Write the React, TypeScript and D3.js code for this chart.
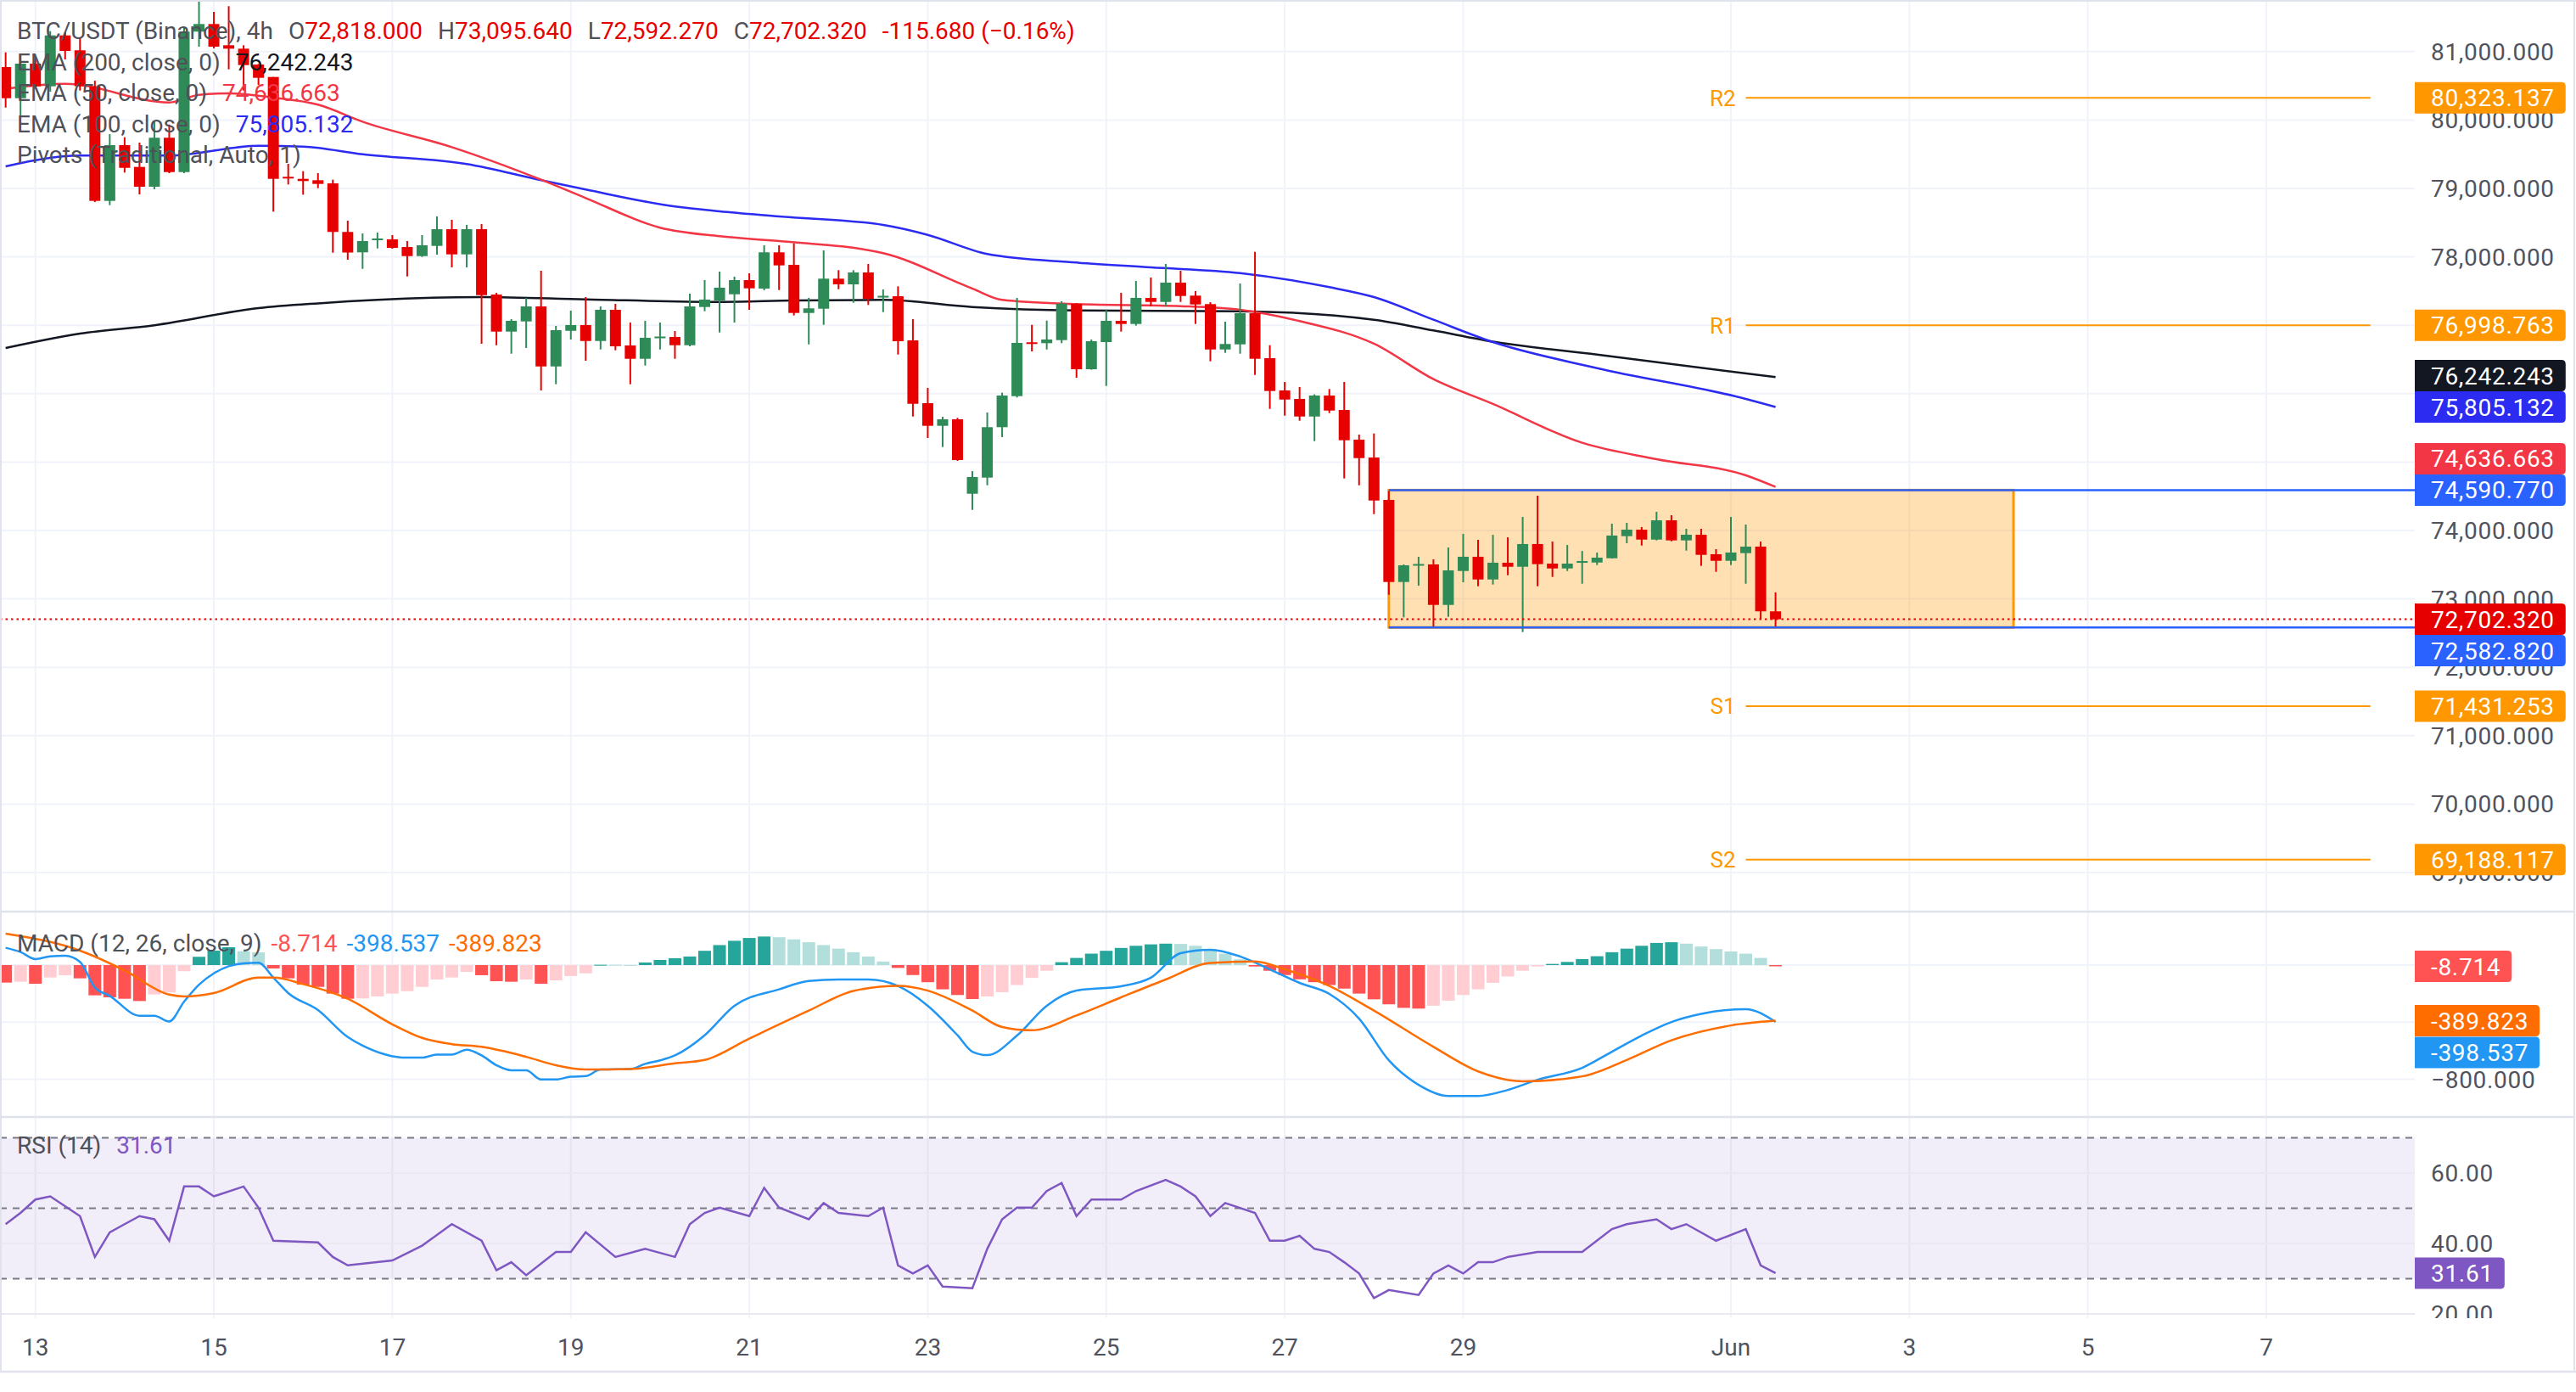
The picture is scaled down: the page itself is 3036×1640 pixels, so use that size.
import React from "react";
import * as d3 from "d3";

const W = 3036;
const H = 1640;

// ---------- DATA ----------
const barStart = new Date(2026, 4, 12, 16, 0); // first visible 4h bar
const opens = [80774,80319,80824,80493,81237,81019,80493,78818,79633,79314,79025,79741,79239,81292,81403,81093,81043,80811,80629,79170,79140,79120,79074,78364,78066,78252,78256,78144,78011,78160,78404,78036,78404,77449,76907,77056,77275,76398,76919,77003,76770,77226,76705,76510,76822,76829,76708,77267,77362,77453,77660,77536,78066,77883,77180,77242,77681,77598,77772,77418,77424,76779,75861,75530,75625,74537,74773,75510,75964,76751,76738,76783,77313,76357,76754,77065,77019,77400,77341,77623,77433,77309,76646,76721,77176,76519,76047,75923,75666,75973,75762,75328,75067,74447,73247,73498,73504,72912,73408,73616,73284,73529,73470,73802,73516,73445,73544,73532,73594,73917,74012,73867,74149,73855,73938,73653,73557,73669,73764,72818];
const highs = [80989,80948,80911,81299,81283,81196,80576,79794,79748,79670,79980,79934,81345,81733,81581,81664,81093,80820,80630,79360,79252,79223,79128,78529,78342,78355,78318,78231,78318,78591,78541,78467,78479,77474,77089,77400,77797,76990,77213,77412,77275,77313,77040,77065,77040,76916,77462,77660,77784,77710,77759,78169,78169,78197,77400,78094,77805,77805,77896,77524,77569,77089,76084,75662,75646,74868,75725,76014,77400,77006,77068,77350,77325,76792,77222,77474,77648,77697,77896,77797,77499,77337,77052,77610,78073,76708,76171,76097,75990,76068,76171,75402,75418,74579,73504,73615,73578,73752,73950,73863,73937,73900,74198,74509,73838,73788,73701,73677,74100,74112,74050,74273,74223,74025,74025,73727,74198,74087,73838,73095.64];
const lows = [80182,80058,80452,80414,80886,80431,78801,78756,79232,78913,78988,79223,79223,81072,81047,80741,80431,80514,78661,79058,78909,79004,78061,77958,77825,78123,78119,77713,77999,78032,77846,77846,76730,76708,76584,76667,76047,76138,76792,76481,76646,76634,76138,76411,76646,76510,76692,77205,76895,77040,77226,77511,77515,77143,76721,77006,77527,77329,77297,77192,76572,75666,75352,75220,75017,74301,74661,75365,75944,76618,76646,76738,76233,76350,76113,76907,76994,77279,77279,77341,77019,76473,76597,76584,76274,75778,75679,75604,75306,75716,74761,74661,74239,73061,72731,73193,72589,72738,73243,73185,73210,73346,72515,73185,73321,73408,73222,73495,73590,73814,73780,73855,73842,73706,73483,73396,73495,73222,72701,72592.27];
const closes = [80319,80824,80493,81237,81010,80493,78818,79633,79301,79025,79741,79239,81292,81403,81072,81043,80803,80617,79140,79149,79108,79066,78364,78063,78231,78268,78131,78011,78169,78404,78036,78404,77440,76907,77065,77275,76398,76928,77003,76770,77226,76692,76510,76816,76835,76708,77275,77375,77549,77660,77540,78066,77875,77180,77247,77681,77598,77772,77387,77430,76767,75852,75530,75625,75030,74782,75510,75973,76742,76738,76792,77316,76357,76767,77065,77019,77400,77341,77623,77428,77304,76646,76726,77176,76510,76039,75914,75666,75973,75753,75319,75058,74438,73247,73491,73510,72912,73417,73616,73284,73529,73470,73802,73508,73445,73516,73553,73603,73926,74012,73867,74149,73855,73938,73644,73557,73678,73764,72818,72702.32];

// EMA readings: [bar index, value]
const ema200: [number, number][] = [[0,76667],[5,76878],[10,77000],[17,77250],[21,77320],[32,77412],[39,77378],[48,77341],[53,77362],[59,77371],[65,77267],[72,77217],[83,77205],[92,77081],[96,76924],[100,76760],[107,76570],[119,76242.243]];
const ema100: [number, number][] = [[0,79323],[5,79480],[11,79480],[17,79624],[20,79612],[24,79500],[31,79356],[36,79120],[39,78984],[45,78736],[48,78665],[52,78591],[59,78466],[62,78321],[66,78041],[72,77917],[77,77846],[83,77763],[89,77557],[92,77412],[96,77081],[100,76754],[107,76373],[117,75923],[119,75805.132]];
const ema50: [number, number][] = [[0,80458],[4,80530],[11,80257],[13,80368],[15,80390],[18,80328],[21,80225],[24,79976],[30,79604],[36,79128],[39,78860],[44,78426],[48,78301],[52,78231],[59,78053],[65,77536],[67,77371],[72,77309],[79,77279],[83,77226],[87,77061],[92,76730],[96,76212],[100,75849],[106,75282],[111,75042],[117,74806],[119,74636.663]];

const macdPts: [number, number][] = [[0,121],[1,91],[2,42],[3,61],[4,65],[5,22],[6,-157],[7,-216],[9,-355],[10,-355],[11,-395],[12,-256],[13,-137],[14,-58],[15,-8],[16,12],[17,16],[18,-88],[19,-196],[21,-315],[23,-504],[24,-564],[27,-649],[28,-649],[29,-627],[30,-627],[31,-593],[32,-633],[33,-702],[34,-738],[35,-738],[36,-802],[37,-802],[38,-782],[39,-778],[40,-732],[42,-728],[43,-692],[44,-668],[45,-633],[47,-492],[49,-285],[52,-170],[54,-112],[56,-101],[58,-101],[60,-146],[62,-285],[64,-492],[65,-607],[66,-631],[68,-494],[70,-285],[72,-179],[75,-149],[77,-89],[79,83],[81,107],[83,60],[85,-30],[87,-125],[89,-202],[91,-375],[93,-667],[95,-839],[97,-917],[99,-917],[101,-875],[103,-804],[106,-720],[108,-607],[110,-494],[112,-399],[114,-342],[117,-309],[119,-398.537]];
const signalPts: [number, number][] = [[0,220],[5,101],[8,-38],[11,-207],[12,-220],[14,-196],[17,-88],[18,-88],[20,-133],[23,-236],[26,-415],[28,-510],[30,-554],[32,-573],[35,-643],[37,-702],[39,-732],[42,-728],[45,-689],[47,-665],[50,-515],[54,-319],[57,-181],[60,-146],[62,-179],[65,-319],[67,-434],[69,-457],[72,-353],[75,-226],[78,-101],[81,15],[84,26],[86,-30],[89,-146],[92,-319],[96,-573],[99,-745],[102,-815],[106,-780],[109,-665],[112,-527],[116,-423],[119,-389.823]];
const histVals = [-123,-117,-131,-87,-71,-93,-212,-226,-236,-252,-206,-192,-43,58,101,125,97,89,-24,-93,-137,-153,-200,-236,-234,-220,-200,-183,-153,-101,-87,-48,-71,-113,-117,-101,-131,-107,-77,-58,2,2,1,18,36,48,60,100,140,170,190,200,195,180,160,140,115,90,60,25,-20,-70,-120,-170,-210,-238,-220,-190,-140,-90,-40,20,50,80,100,120,135,145,150,148,135,110,80,40,-10,-40,-70,-100,-120,-140,-165,-200,-240,-275,-300,-305,-285,-250,-210,-170,-125,-80,-40,-10,8,22,42,62,90,115,135,155,160,150,130,112,95,80,50,-8.714];

const rsiPts: [number, number][] = [[0,45.5],[1,48.7],[2,52.5],[3,53.4],[5,47.8],[6,36.2],[7,43.2],[8,45.5],[9,47.8],[10,46.9],[11,40.8],[12,56.2],[13,56.2],[14,53.4],[16,56.2],[17,50.2],[18,40.8],[21,40.3],[22,36.2],[23,33.8],[26,35.2],[28,39.4],[30,45.5],[32,40.8],[33,32.4],[34,34.7],[35,31],[37,37.6],[38,37.6],[39,43.2],[41,36.2],[43,38.5],[45,36.2],[46,45.5],[47,48.7],[48,50.2],[50,47.8],[51,55.8],[52,50.2],[54,46.9],[55,51.5],[56,48.7],[58,47.8],[59,50.2],[60,33.8],[61,31.5],[62,33.8],[63,27.8],[65,27.3],[66,38.5],[67,46.9],[68,50.2],[69,50.2],[70,54.9],[71,57.2],[72,47.8],[73,52.5],[75,52.5],[76,54.9],[78,58.1],[79,56.2],[80,53.4],[81,47.8],[82,51.5],[84,48.7],[85,40.8],[86,40.8],[87,42.2],[88,38.5],[89,37.6],[90,34.7],[91,31.5],[92,24.5],[93,26.8],[95,25.4],[96,31.5],[97,33.8],[98,31.5],[99,34.7],[100,34.7],[101,36.2],[103,37.6],[106,37.6],[108,44.1],[109,45.5],[111,46.9],[112,44.1],[113,45.5],[115,40.8],[117,44.1],[118,33.8],[119,31.61]];

const pivotNames = ["R2", "R1", "S1", "S2"];
const pivotValues = [80323.137, 76998.763, 71431.253, 69188.117];
const boxTop = 74590.77;
const boxBottom = 72582.82;
const boxStartBar = 93;
const boxEnd = new Date(2026, 5, 4, 4);
const pivotStart = new Date(2026, 5, 1, 4);
const pivotEnd = new Date(2026, 5, 8, 4);
const lastPrice = 72702.32;

const priceTicks = [69000, 70000, 71000, 72000, 73000, 74000, 75000, 76000, 77000, 78000, 79000, 80000, 81000];
const macdTicks = [0, -400, -800];
const rsiTicks = [60, 40, 20];
const rsiBands = [70, 50, 30];
const timeTicks = ["2026-05-13","2026-05-15","2026-05-17","2026-05-19","2026-05-21","2026-05-23","2026-05-25","2026-05-27","2026-05-29","2026-06-01","2026-06-03","2026-06-05","2026-06-07"];

const legendMain = { title: "BTC/USDT (Binance), 4h", o: "72,818.000", h: "73,095.640", l: "72,592.270", c: "72,702.320", ch: "-115.680 (\u22120.16%)" };

// ---------- LAYOUT ----------
const PLOT_R = 2846;
const PRICE_BOT = 1073;
const MACD_TOP = 1075, MACD_BOT = 1315;
const RSI_TOP = 1317, RSI_BOT = 1553;
const FONT = "Roboto, 'Noto Sans', sans-serif";
const GRID = "#f0f3fa";
const AX_TXT = "#50535e";
const UP = "#2e8b57";
const DN = "#e60000";

const xTime = d3.scaleTime().domain([new Date(2026, 4, 13), new Date(2026, 5, 1)]).range([41.7, 2040]);
const barDate = (i: number) => new Date(barStart.getTime() + i * 4 * 3600 * 1000);
const bx = (i: number) => xTime(barDate(i));
const yP = d3.scaleLinear().domain([69000, 81000]).range([1028, 60.8]);
const yM = d3.scaleLinear().domain([-800, 0]).range([1271.5, 1137]);
const yR = d3.scaleLinear().domain([30, 70]).range([1506.6, 1340.6]);

const fmtP = d3.format(",.3f");

let _ctx: CanvasRenderingContext2D | null = null;
function tw(s: string, size = 28, ls = 0.7) {
  if (!_ctx) _ctx = document.createElement("canvas").getContext("2d");
  if (!_ctx) return s.length * size * 0.55;
  _ctx.font = `${size}px Roboto`;
  return _ctx.measureText(s).width + ls * s.length;
}

type Lab = { y0: number; text: string; color: string; pr: number };
function layoutLabels(labs: Lab[], h: number) {
  const placed: (Lab & { y: number })[] = [];
  [...labs].sort((a, b) => a.pr - b.pr).forEach((l) => {
    let y = l.y0;
    for (let k = 0; k < 12; k++) {
      const hit = placed.find((p) => Math.abs(p.y - y) < h - 0.5);
      if (!hit) break;
      y = l.y0 < hit.y ? hit.y - h : hit.y + h;
    }
    placed.push({ ...l, y });
  });
  return placed;
}

function AxisLabel({ y, text, color }: { y: number; text: string; color: string }) {
  const h = 37;
  const w = 19 + tw(text) + 13;
  const x0 = PLOT_R, x1 = PLOT_R + w, r = 5;
  const top = y - h / 2, bot = y + h / 2;
  const d = `M${x0},${top} H${x1 - r} Q${x1},${top} ${x1},${top + r} V${bot - r} Q${x1},${bot} ${x1 - r},${bot} H${x0} Z`;
  return (
    <g>
      <path d={d} fill={color} />
      <text x={PLOT_R + 19} y={y} dy="0.36em" fill="#ffffff" fontSize={28} letterSpacing={0.7} fontFamily={FONT}>{text}</text>
    </g>
  );
}

export default function App() {
  const n = closes.length;
  const bodyW = 13;
  const lineP = d3.line<[number, number]>().x((d) => bx(d[0])).y((d) => yP(d[1])).curve(d3.curveMonotoneX);
  const lineM = d3.line<[number, number]>().x((d) => bx(d[0])).y((d) => yM(d[1])).curve(d3.curveMonotoneX);
  const lineR = d3.line<[number, number]>().x((d) => bx(d[0])).y((d) => yR(d[1]));

  const priceLabs = layoutLabels([
    { y0: yP(lastPrice), text: fmtP(lastPrice), color: DN, pr: 0 },
    { y0: yP(boxTop), text: fmtP(boxTop), color: "#2962ff", pr: 1 },
    { y0: yP(boxBottom), text: fmtP(boxBottom), color: "#2962ff", pr: 1 },
    { y0: yP(75805.132), text: fmtP(75805.132), color: "#2b2bf2", pr: 2 },
    ...pivotValues.map((v) => ({ y0: yP(v), text: fmtP(v), color: "#ff9800", pr: 3 })),
    { y0: yP(74636.663), text: fmtP(74636.663), color: "#f23645", pr: 4 },
    { y0: yP(76242.243), text: fmtP(76242.243), color: "#131722", pr: 5 },
  ], 37);
  const macdLabs = layoutLabels([
    { y0: yM(-8.714), text: "-8.714", color: "#ff5252", pr: 0 },
    { y0: yM(-389.823), text: "-389.823", color: "#ff6d00", pr: 1 },
    { y0: yM(-398.537), text: "-398.537", color: "#2196f3", pr: 2 },
  ], 37.5);

  const tickDates = timeTicks.map((s) => { const [a, b, c] = s.split("-").map(Number); return new Date(a, b - 1, c); });
  const fmtTick = (d: Date) => (d.getDate() === 1 ? d3.timeFormat("%b")(d) : String(d.getDate()));

  const histColor = (i: number) => {
    const v = histVals[i];
    const p = i > 0 ? histVals[i - 1] : (v < 0 ? 0 : -1e9);
    if (v >= 0) return v > p ? "#26a69a" : "#b2dfdb";
    return v < p ? "#ff5252" : "#ffcdd2";
  };

  const gap = 18;
  return (
    <div style={{ position: "fixed", left: 0, top: 0, width: W, height: H, background: "#fff" }}>
      <svg width={W} height={H} viewBox={`0 0 ${W} ${H}`} style={{ display: "block" }} fontFamily={FONT}>
        <defs>
          <clipPath id="cpP"><rect x={0} y={0} width={PLOT_R} height={PRICE_BOT} /></clipPath>
          <clipPath id="cpM"><rect x={0} y={MACD_TOP} width={PLOT_R} height={MACD_BOT - MACD_TOP} /></clipPath>
          <clipPath id="cpR"><rect x={0} y={RSI_TOP} width={PLOT_R} height={RSI_BOT - RSI_TOP} /></clipPath>
          <clipPath id="cpRA"><rect x={PLOT_R} y={RSI_TOP} width={200} height={RSI_BOT - RSI_TOP} /></clipPath>
        </defs>
        <rect x={0} y={0} width={W} height={H} fill="#ffffff" />

        {/* vertical grid */}
        {tickDates.map((d, k) => (
          <line key={"vg" + k} x1={xTime(d)} x2={xTime(d)} y1={0} y2={RSI_BOT} stroke={GRID} strokeWidth={2} />
        ))}
        {/* price grid */}
        {priceTicks.map((t) => (
          <line key={"pg" + t} x1={0} x2={PLOT_R} y1={yP(t)} y2={yP(t)} stroke={GRID} strokeWidth={2} />
        ))}
        {macdTicks.map((t) => (
          <line key={"mg" + t} x1={0} x2={PLOT_R} y1={yM(t)} y2={yM(t)} stroke={GRID} strokeWidth={2} />
        ))}
        {/* RSI band */}
        <rect x={0} y={yR(70)} width={PLOT_R} height={yR(30) - yR(70)} fill="rgba(126,87,194,0.1)" />
        {rsiTicks.map((t) => (
          <line key={"rg" + t} x1={0} x2={PLOT_R} y1={yR(t)} y2={yR(t)} stroke="#ebe8f2" strokeWidth={2} clipPath="url(#cpR)" />
        ))}
        {rsiBands.map((t) => (
          <line key={"rb" + t} x1={0} x2={PLOT_R} y1={yR(t)} y2={yR(t)} stroke="#787b86" strokeWidth={2} strokeDasharray="8 7" />
        ))}

        {/* price pane */}
        <g clipPath="url(#cpP)">
          <rect x={bx(boxStartBar)} y={yP(boxTop)} width={xTime(boxEnd) - bx(boxStartBar)} height={yP(boxBottom) - yP(boxTop)} fill="rgba(255,152,0,0.3)" stroke="#ff9800" strokeWidth={3} />
          {pivotValues.map((v, k) => (
            <g key={"pv" + k}>
              <line x1={xTime(pivotStart)} x2={xTime(pivotEnd)} y1={yP(v)} y2={yP(v)} stroke="#ff9800" strokeWidth={2} />
              <text x={xTime(pivotStart) - 12} y={yP(v)} dy="0.36em" textAnchor="end" fill="#ff9800" fontSize={26}>{pivotNames[k]}</text>
            </g>
          ))}
          <path d={lineP(ema200) || ""} fill="none" stroke="#131722" strokeWidth={2.5} />
          <path d={lineP(ema100) || ""} fill="none" stroke="#2b2bf2" strokeWidth={2.5} />
          <path d={lineP(ema50) || ""} fill="none" stroke="#f23645" strokeWidth={2.5} />
          {d3.range(n).map((i) => {
            const up = closes[i] >= opens[i];
            const c = up ? UP : DN;
            const x = bx(i);
            const yt = yP(Math.max(opens[i], closes[i]));
            const yb = yP(Math.min(opens[i], closes[i]));
            return (
              <g key={"c" + i}>
                <line x1={x} x2={x} y1={yP(highs[i])} y2={yP(lows[i])} stroke={c} strokeWidth={2} />
                <rect x={x - bodyW / 2} y={yt} width={bodyW} height={Math.max(2, yb - yt)} fill={c} />
              </g>
            );
          })}
          <line x1={bx(boxStartBar)} x2={PLOT_R} y1={yP(boxTop)} y2={yP(boxTop)} stroke="#2962ff" strokeWidth={2.5} />
          <line x1={bx(boxStartBar)} x2={PLOT_R} y1={yP(boxBottom)} y2={yP(boxBottom)} stroke="#2962ff" strokeWidth={2.5} />
          <line x1={0} x2={PLOT_R} y1={yP(lastPrice)} y2={yP(lastPrice)} stroke={DN} strokeWidth={2} strokeDasharray="2.5 4" />
        </g>

        {/* MACD pane */}
        <g clipPath="url(#cpM)">
          {histVals.map((v, i) => (
            <rect key={"h" + i} x={bx(i) - 7.5} y={Math.min(yM(v), yM(0))} width={15} height={Math.max(1, Math.abs(yM(v) - yM(0)))} fill={histColor(i)} />
          ))}
          <path d={lineM(macdPts) || ""} fill="none" stroke="#2196f3" strokeWidth={2.5} />
          <path d={lineM(signalPts) || ""} fill="none" stroke="#ff6d00" strokeWidth={2.5} />
        </g>

        {/* RSI pane */}
        <g clipPath="url(#cpR)">
          <path d={lineR(rsiPts) || ""} fill="none" stroke="#7e57c2" strokeWidth={2.5} />
        </g>

        {/* right axis background */}
        <rect x={PLOT_R} y={0} width={W - PLOT_R} height={1616} fill="#ffffff" />
        {priceTicks.map((t) => (
          <text key={"pt" + t} x={PLOT_R + 19} y={yP(t)} dy="0.36em" fill={AX_TXT} fontSize={28} letterSpacing={0.7}>{fmtP(t)}</text>
        ))}
        {macdTicks.map((t) => (
          <text key={"mt" + t} x={PLOT_R + 19} y={yM(t)} dy="0.36em" fill={AX_TXT} fontSize={28} letterSpacing={0.7}>{fmtP(t)}</text>
        ))}
        <g clipPath="url(#cpRA)">
          {rsiTicks.map((t) => (
            <text key={"rt" + t} x={PLOT_R + 19} y={yR(t)} dy="0.36em" fill={AX_TXT} fontSize={28} letterSpacing={0.7}>{d3.format(".2f")(t)}</text>
          ))}
        </g>
        {priceLabs.map((l, k) => <AxisLabel key={"pl" + k} y={l.y} text={l.text} color={l.color} />)}
        {macdLabs.map((l, k) => <AxisLabel key={"ml" + k} y={l.y} text={l.text} color={l.color} />)}
        <AxisLabel y={yR(31.61)} text="31.61" color="#7e57c2" />

        {/* time axis */}
        {tickDates.map((d, k) => (
          <text key={"tt" + k} x={xTime(d)} y={1597} textAnchor="middle" fill={AX_TXT} fontSize={28}>{fmtTick(d)}</text>
        ))}

        {/* separators & borders */}
        <line x1={0} x2={3034} y1={1074} y2={1074} stroke="#e0e3eb" strokeWidth={2.5} />
        <line x1={0} x2={3034} y1={1316} y2={1316} stroke="#e0e3eb" strokeWidth={2.5} />
        <line x1={0} x2={3036} y1={1616} y2={1616} stroke="#e0e3eb" strokeWidth={2.5} />
        <line x1={0} x2={3036} y1={1} y2={1} stroke="#e0e3eb" strokeWidth={2} />
        <line x1={3034} x2={3034} y1={0} y2={1616} stroke="#e0e3eb" strokeWidth={2} />
        <line x1={1} x2={1} y1={0} y2={1616} stroke="#e0e3eb" strokeWidth={2} />

        {/* legends */}
        <g fontSize={28}>
          <text x={20} y={46} fill="#4e5159">
            {legendMain.title}
            <tspan dx={gap}>O</tspan><tspan fill={DN}>{legendMain.o}</tspan>
            <tspan dx={gap}>H</tspan><tspan fill={DN}>{legendMain.h}</tspan>
            <tspan dx={gap}>L</tspan><tspan fill={DN}>{legendMain.l}</tspan>
            <tspan dx={gap}>C</tspan><tspan fill={DN}>{legendMain.c}</tspan>
            <tspan dx={gap} fill={DN}>{legendMain.ch}</tspan>
          </text>
          <text x={20} y={82.5} fill="#4e5159">EMA (200, close, 0)<tspan dx={gap} fill="#131722">76,242.243</tspan></text>
          <text x={20} y={119} fill="#4e5159">EMA (50, close, 0)<tspan dx={gap} fill="#f23645">74,636.663</tspan></text>
          <text x={20} y={155.5} fill="#4e5159">EMA (100, close, 0)<tspan dx={gap} fill="#2b2bf2">75,805.132</tspan></text>
          <text x={20} y={192} fill="#4e5159">Pivots (Traditional, Auto, 1)</text>
          <text x={20} y={1121} fill="#4e5159">MACD (12, 26, close, 9)
            <tspan dx={gap - 7} fill="#ff5252">-8.714</tspan>
            <tspan dx={gap - 7} fill="#2196f3">-398.537</tspan>
            <tspan dx={gap - 7} fill="#ff6d00">-389.823</tspan>
          </text>
          <text x={20} y={1359} fill="#4e5159">RSI (14)<tspan dx={gap} fill="#7e57c2">31.61</tspan></text>
        </g>
      </svg>
    </div>
  );
}
